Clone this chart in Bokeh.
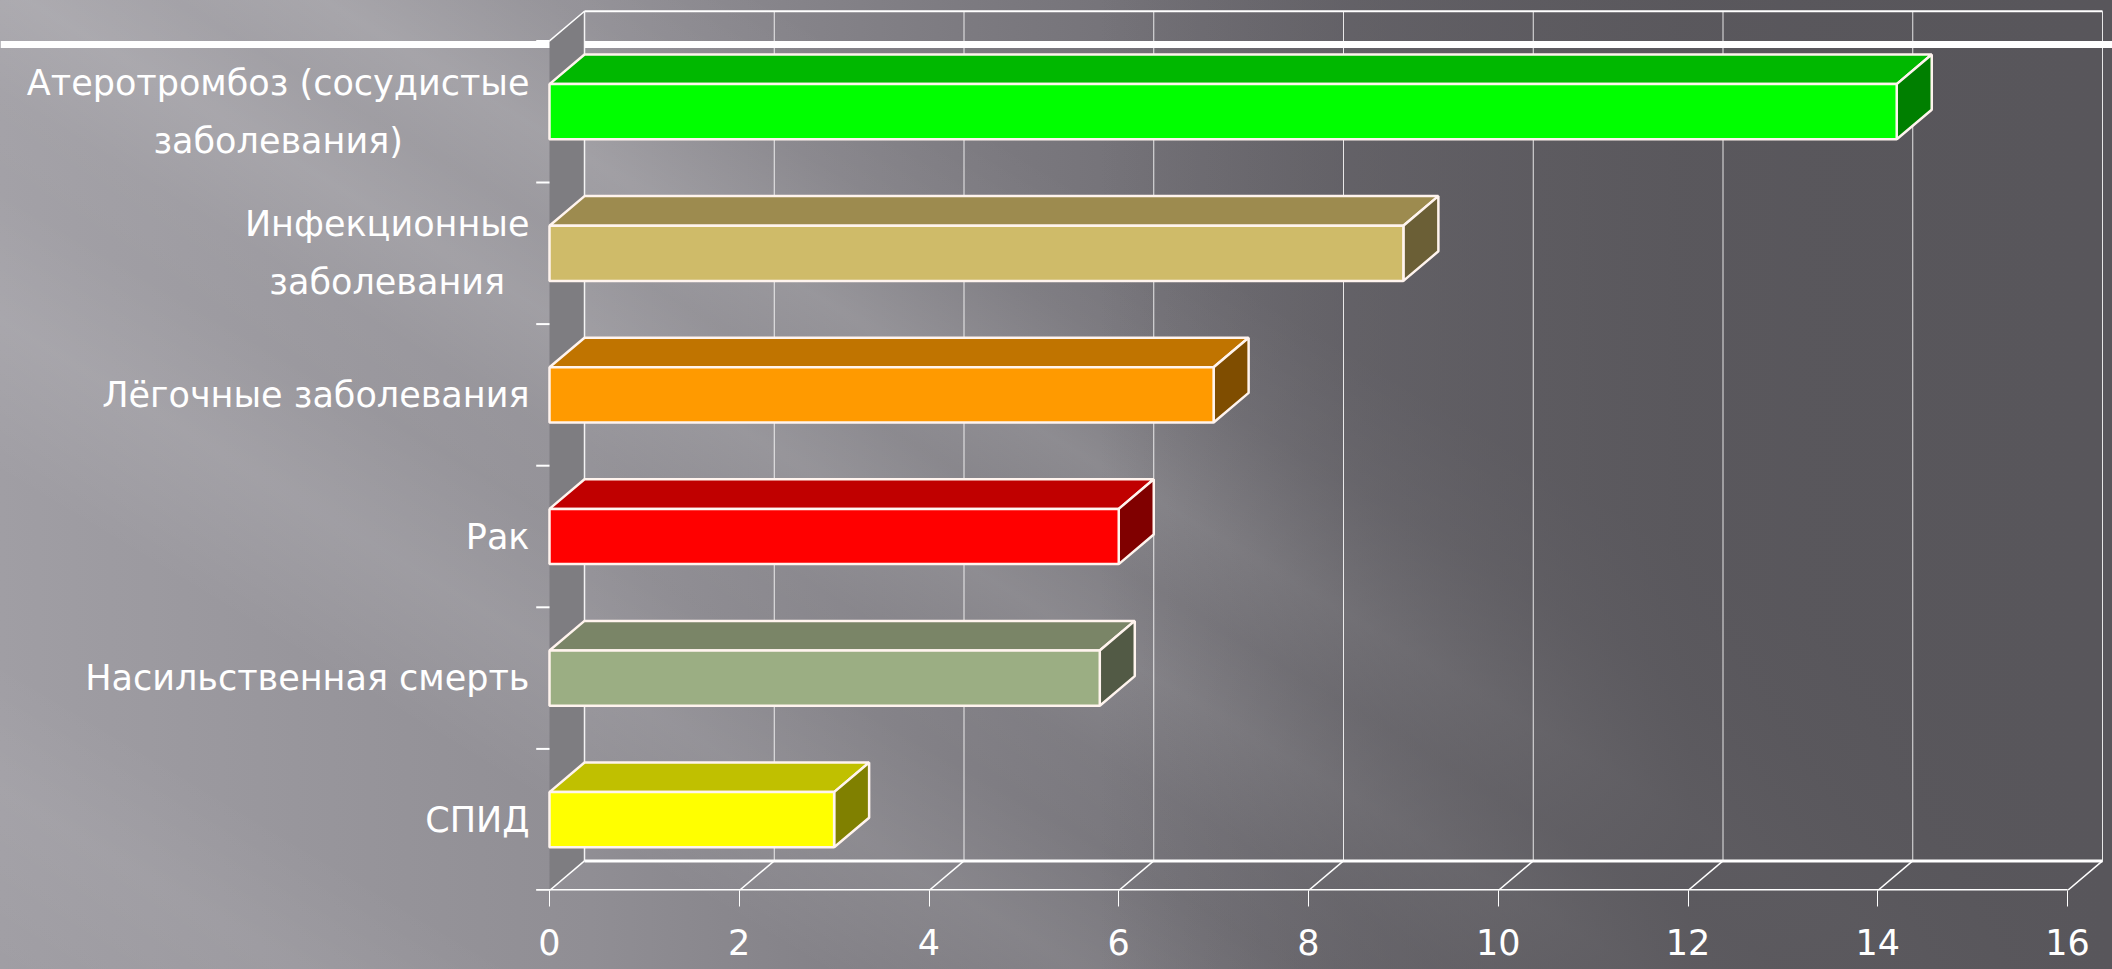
from bokeh.plotting import figure
from bokeh.models import Range1d, FixedTicker, ColumnDataSource, Span
from bokeh.core.properties import value
from bokeh.embed import file_html
from bokeh.resources import INLINE

# ---- data (top to bottom, as in the chart) ----
categories = [
    "Атеротромбоз (сосудистые\nзаболевания)",
    "Инфекционные\nзаболевания",
    "Лёгочные заболевания",
    "Рак",
    "Насильственная смерть",
    "СПИД",
]
values = [14.2, 9.0, 7.0, 6.0, 5.8, 3.0]
front_colors = ["#00ff00", "#cfbb69", "#ff9a00", "#ff0000", "#9bae83", "#ffff00"]
top_colors = ["#00b800", "#9d8b4f", "#c07400", "#c00000", "#7a8567", "#c0c000"]
side_colors = ["#007f00", "#6b5f36", "#7f4d00", "#800000", "#525a45", "#808000"]
x_ticks = [0, 2, 4, 6, 8, 10, 12, 14, 16]

# ---- layout constants ----
W, H = 2112, 969
BOTTOM = 79
PX_X = 94.875          # pixels per x unit
PX_Y = 141.6           # pixels per category slot
x_start = -549 / PX_X
x_end = x_start + W / PX_X
y_end = (H - BOTTOM) / PX_Y
DX = 35 / PX_X         # 3D depth offset in x units
DY = 29.6 / PX_Y       # 3D depth offset in y units
BAR_H = 0.39
n = len(categories)
x_max = x_ticks[-1]

p = figure(width=W, height=H, x_range=Range1d(x_start, x_end), y_range=Range1d(0, y_end),
           output_backend="svg", toolbar_location=None,
           min_border_left=0, min_border_right=0, min_border_top=0, min_border_bottom=BOTTOM)
p.background_fill_color = None
p.border_fill_color = None
p.outline_line_color = None
p.grid.visible = False
p.yaxis.visible = False
p.styles = {
    "background": (
        "linear-gradient(90deg, rgba(88,86,91,0) 52%, rgba(88,86,91,0.45) 66%,"
        " rgba(88,86,91,0.85) 80%, rgba(88,86,91,1) 100%),"
        "linear-gradient(31deg,"
        " rgba(255,255,255,0) 0%, rgba(255,255,255,0.05) 8%, rgba(255,255,255,0) 14%,"
        " rgba(255,255,255,0) 22%, rgba(255,255,255,0.09) 29%, rgba(255,255,255,0.03) 35%,"
        " rgba(255,255,255,0.05) 39%, rgba(255,255,255,0.14) 44%, rgba(255,255,255,0.09) 48%,"
        " rgba(255,255,255,0.16) 52%, rgba(255,255,255,0.05) 58%, rgba(255,255,255,0) 64%),"
        "linear-gradient(90deg, #a09ea4 0%, #908e94 28%, #7a787e 48%, #6a686e 64%, #5a585d 100%)"
    )
}

# decorative slide line
p.add_layout(Span(location=(H - BOTTOM - 44) / PX_Y, dimension="width", line_color="white",
                  line_width=7, level="underlay"))

# ---- x axis ----
ax = p.xaxis[0]
ax.ticker = FixedTicker(ticks=x_ticks)
ax.axis_line_color = None
ax.major_tick_line_color = "white"
ax.major_tick_line_width = 1
ax.major_tick_out = 16
ax.major_tick_in = 0
ax.minor_tick_line_color = None
ax.major_label_text_color = "white"
ax.major_label_text_font = "DejaVu Sans"
ax.major_label_text_font_size = "35px"
ax.major_label_standoff = 22

# ---- walls / floor ----
p.patch([0, DX, DX, 0], [0, DY, n + DY, n], fill_color="#7e7d81", line_color=None)
p.segment(x0=[DX], y0=[DY], x1=[DX], y1=[n + DY], line_color="white", line_width=1.5, line_alpha=0.9)
p.segment(x0=[0], y0=[n], x1=[DX], y1=[n + DY], line_color="white", line_width=1.5)

grid_x = [t + DX for t in x_ticks[1:]]
p.segment(x0=grid_x, y0=[DY] * len(grid_x), x1=grid_x, y1=[n + DY] * len(grid_x),
          line_color="white", line_width=1, line_alpha=0.85)
p.segment(x0=[DX], y0=[n + DY], x1=[x_max + DX], y1=[n + DY], line_color="white", line_width=2)
p.segment(x0=[DX], y0=[DY], x1=[x_max + DX], y1=[DY], line_color="white", line_width=3)
p.segment(x0=x_ticks, y0=[0] * len(x_ticks), x1=[t + DX for t in x_ticks], y1=[DY] * len(x_ticks),
          line_color="white", line_width=1.5)
p.segment(x0=[-0.14], y0=[0], x1=[x_max], y1=[0], line_color="white", line_width=3)
# left category tick marks
p.segment(x0=[-0.14] * (n + 1), y0=list(range(n + 1)), x1=[0] * (n + 1), y1=list(range(n + 1)),
          line_color="white", line_width=2)

# ---- bars ----
centers = [n - 1 - k + 0.5 for k in range(n)]
bottoms = [c - BAR_H / 2 for c in centers]
tops = [c + BAR_H / 2 for c in centers]
top_xs = [[0, v, v + DX, DX] for v in values]
top_ys = [[t, t, t + DY, t + DY] for t in tops]
side_xs = [[v, v + DX, v + DX, v] for v in values]
side_ys = [[b, b + DY, t + DY, t] for b, t in zip(bottoms, tops)]

src = ColumnDataSource(dict(cat=categories, val=values, y=centers, front=front_colors,
                            topc=top_colors, side=side_colors, top_xs=top_xs, top_ys=top_ys,
                            side_xs=side_xs, side_ys=side_ys, zero=[0] * n))
outline = "#fff4ee"
p.patches(xs="top_xs", ys="top_ys", source=src, fill_color="topc", line_color=outline, line_width=2.5)
p.patches(xs="side_xs", ys="side_ys", source=src, fill_color="side", line_color=outline, line_width=2.5)
p.hbar(y="y", left="zero", right="val", height=BAR_H, source=src, fill_color="front",
       line_color=outline, line_width=2.5)

# ---- category labels ----
p.text(x="zero", y="y", text="cat", source=src, x_offset=-20, text_color="white",
       text_font=value("DejaVu Sans"), text_font_size="35px", text_align="center",
       anchor=value("center_right"), text_line_height=1.45)

open("out.html", "w").write(file_html(p, INLINE))
